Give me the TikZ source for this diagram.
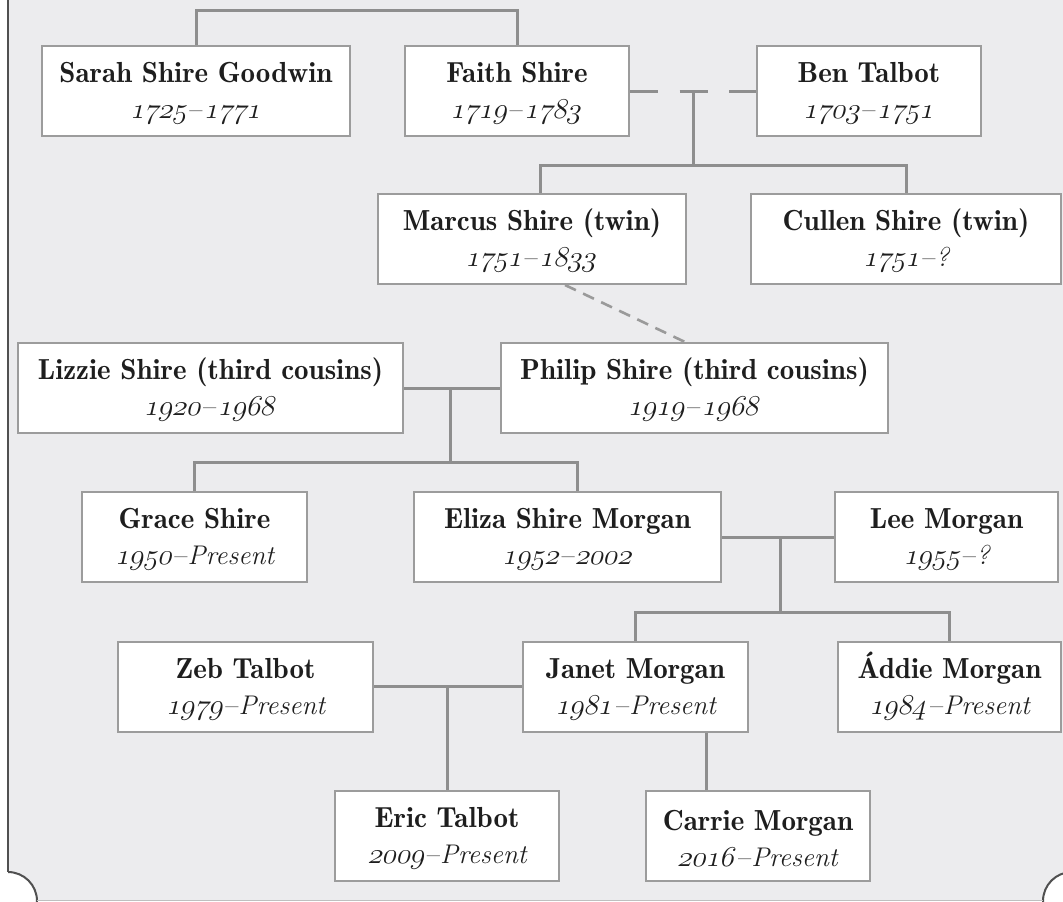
\documentclass[tikz,border=0pt]{standalone}
\usepackage{xcolor}
\definecolor{bgc}{HTML}{ECECEE}
\definecolor{linec}{HTML}{8E8E8E}
\definecolor{dashc}{HTML}{9A9A9A}
\definecolor{boxc}{HTML}{9C9C9C}
\definecolor{framec}{HTML}{505050}
\definecolor{txtc}{HTML}{1E1E1E}
\newcommand\oldnum[1]{\tikz[baseline=(dg.base)]\node[draw=none, fill=none, minimum width=0pt, minimum height=0pt, inner sep=0pt, outer sep=0pt, xslant=0.24, transform shape] (dg) {\usefont{OML}{cmm}{m}{it}#1};}
\newcommand\nm[1]{{\rule{0pt}{12.5pt}\fontsize{14.5}{18}\fontseries{b}\selectfont #1}}
\newcommand\dt[1]{{\fontsize{13.5}{18}\selectfont #1}}
\tikzset{
  pbox/.style={draw=boxc, line width=1pt, fill=white, inner sep=0pt, align=center,
    text=txtc, minimum height=45pt, font=\fontsize{13}{18}\selectfont},
  conn/.style={draw=linec, line width=1.5pt},
  mdash/.style={draw=linec, line width=1.5pt, dash pattern=on 14pt off 10.75pt},
  cdash/.style={draw=dashc, line width=1.3pt, dash pattern=on 6pt off 4pt}
}
\begin{document}
\begin{tikzpicture}[x=0.5pt,y=-0.5pt]
\useasboundingbox (0,0) rectangle (1063,901);
% background and frame
\fill[white] (0,0) rectangle (1063,901);
\fill[bgc] (8,0) rectangle (1063,901);
\fill[white] (8,901) circle[radius=14.5pt];
\fill[white] (1072,901) circle[radius=14.5pt];
\begin{scope}
\clip (8,0) rectangle (1063,901);
\draw[framec, line width=1pt] (8,901) circle[radius=14.5pt];
\draw[framec, line width=1pt] (1072,901) circle[radius=14.5pt];
\end{scope}
\draw[framec, line width=1pt] (8,0) -- (8,872);
\draw[black!25, line width=0.6pt] (37,900.5) -- (1043,900.5);

% people
\node[pbox, minimum width=154pt] (sarah) at (196,91) {\nm{Sarah Shire Goodwin}\\\dt{\oldnum{1725}–\oldnum{1771}}};
\node[pbox, minimum width=112pt] (faith) at (517,91) {\nm{Faith Shire}\\\dt{\oldnum{1719}–\oldnum{1783}}};
\node[pbox, minimum width=112pt] (ben) at (869,91) {\nm{Ben Talbot}\\\dt{\oldnum{1703}–\oldnum{1751}}};
\node[pbox, minimum width=154pt] (marcus) at (532,239) {\nm{Marcus Shire (twin)}\\\dt{\oldnum{1751}–\oldnum{1833}}};
\node[pbox, minimum width=155pt] (cullen) at (906,239) {\nm{Cullen Shire (twin)}\\\dt{\oldnum{1751}–\textit{?}}};
\node[pbox, minimum width=192.5pt] (lizzie) at (210.5,388) {\nm{Lizzie Shire (third cousins)}\\\dt{\oldnum{1920}–\oldnum{1968}}};
\node[pbox, minimum width=193.5pt] (philip) at (694.5,388) {\nm{Philip Shire (third cousins)}\\\dt{\oldnum{1919}–\oldnum{1968}}};
\node[pbox, minimum width=112.5pt] (grace) at (194.5,537) {\nm{Grace Shire}\\\dt{\oldnum{1950}–\textit{Present}}};
\node[pbox, minimum width=153.5pt] (eliza) at (567.5,537) {\nm{Eliza Shire Morgan}\\\dt{\oldnum{1952}–\oldnum{2002}}};
\node[pbox, minimum width=111.5pt] (lee) at (946.5,537) {\nm{Lee Morgan}\\\dt{\oldnum{1955}–\textit{?}}};
\node[pbox, minimum width=127.5pt] (zeb) at (245.5,686.5) {\nm{Zeb Talbot}\\\dt{\oldnum{1979}–\textit{Present}}};
\node[pbox, minimum width=112.5pt] (janet) at (635.5,686.5) {\nm{Janet Morgan}\\\dt{\oldnum{1981}–\textit{Present}}};
\node[pbox, minimum width=111.5pt] (addie) at (949.5,686.5) {\nm{Áddie Morgan}\\\dt{\oldnum{1984}–\textit{Present}}};
\node[pbox, minimum width=112pt] (eric) at (447,836) {\nm{Eric Talbot}\\\dt{\oldnum{2009}–\textit{Present}}};
\node[pbox, minimum width=112pt] (carrie) at (758,836) {\nm{Carrie Morgan}\\\dt{\oldnum{2016}–\textit{Present}}};

% junction points
\coordinate (fb) at (693,91);
\coordinate (fbm) at (693,165);
\coordinate (lp) at (450,388);
\coordinate (lpb) at (450,462);
\coordinate (el) at (780,537);
\coordinate (elb) at (780,612);
\coordinate (zj) at (447,686.5);

% connectors
\draw[conn] (sarah.north) -- ++(0,-35) -| (faith.north);
\draw[mdash] (faith.east) -- (ben.west);
\draw[conn] (fb) -- (fbm);
\draw[conn] ([xshift=4pt]marcus.north) |- (fbm) -| (cullen.north);
\draw[cdash] ([xshift=16.5pt]marcus.south) -- ([xshift=-4.75pt]philip.north);
\draw[conn] (lizzie.east) -- (philip.west);
\draw[conn] (lp) -- (lpb);
\draw[conn] (grace.north) |- (lpb) -| ([xshift=4.75pt]eliza.north);
\draw[conn] (eliza.east) -- (lee.west);
\draw[conn] (el) -- (elb);
\draw[conn] (janet.north) |- (elb) -| (addie.north);
\draw[conn] (zeb.east) -- (janet.west);
\draw[conn] (zj) -- (eric.north);
\draw[conn] ([xshift=35.25pt]janet.south) -- ([xshift=35.25pt]janet.south |- carrie.north);
\end{tikzpicture}
\end{document}
